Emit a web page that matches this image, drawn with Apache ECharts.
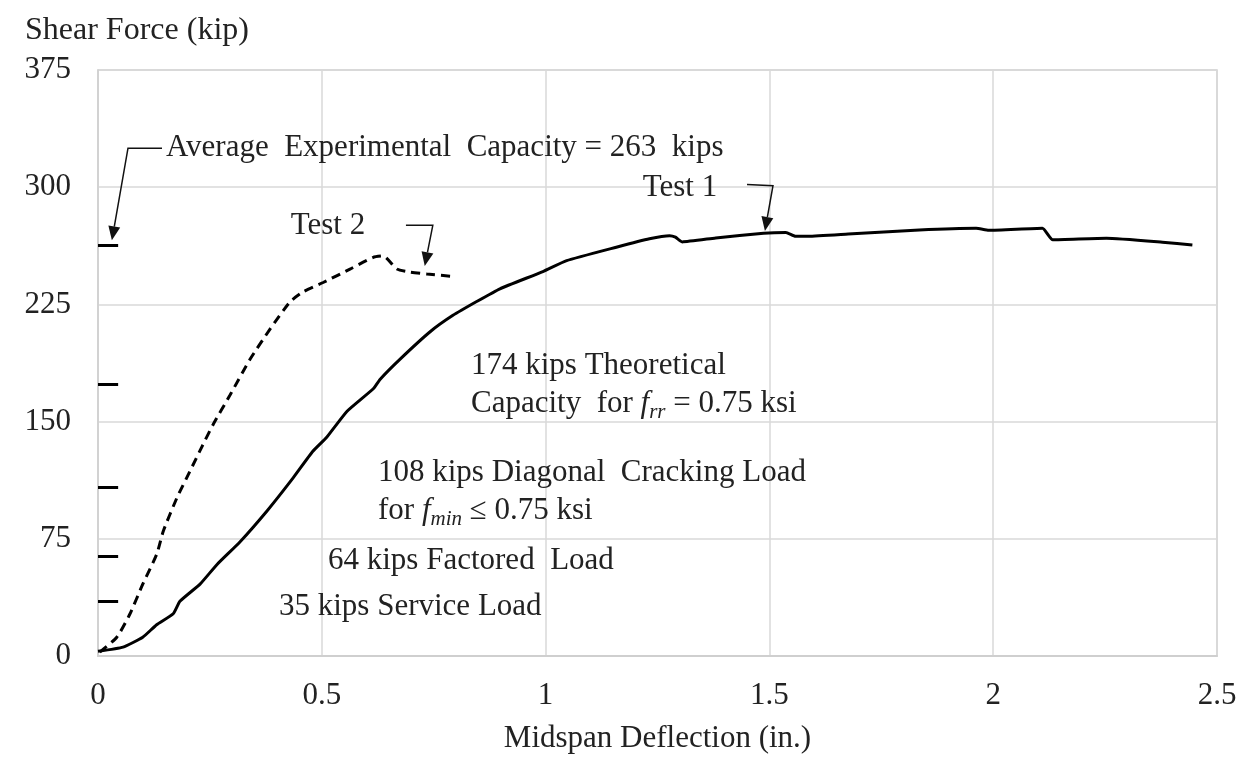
<!DOCTYPE html>
<html>
<head>
<meta charset="utf-8">
<script src="https://cdn.jsdelivr.net/npm/echarts@6/dist/echarts.min.js"></script>
<style>
  html, body { margin: 0; padding: 0; background: #fff; }
  #main { width: 1253px; height: 759px; }
</style>
</head>
<body>
<div id="main"></div>
<script>
// Test 1 (solid) : [deflection in., shear kip]
var test1 = [
  [0, 3], [0.056, 5.7], [0.1, 12], [0.131, 20], [0.168, 27], [0.183, 35],
  [0.228, 46], [0.266, 58.6], [0.317, 73], [0.378, 93], [0.436, 114], [0.48, 131],
  [0.511, 140], [0.556, 156.5], [0.615, 171], [0.63, 177], [0.675, 190],
  [0.742, 207.5], [0.793, 218], [0.847, 227], [0.898, 235], [0.994, 246],
  [1.047, 253], [1.158, 261.6], [1.232, 267], [1.277, 269], [1.29, 268],
  [1.305, 265], [1.38, 267.5], [1.487, 270.5], [1.537, 271], [1.558, 268.6],
  [1.587, 268.6], [1.676, 270], [1.835, 272.6], [1.962, 273.7], [1.99, 272.4],
  [2.11, 273.7], [2.133, 266.3], [2.253, 267.3], [2.378, 264.8], [2.445, 263]
];
// Test 2 (dashed)
var test2 = [
  [0.004, 2.5], [0.042, 12], [0.071, 26.7], [0.1, 46], [0.131, 65], [0.146, 80],
  [0.176, 101], [0.205, 118], [0.234, 135], [0.257, 148], [0.295, 167], [0.34, 190],
  [0.384, 209], [0.429, 226.6], [0.458, 233], [0.503, 239], [0.563, 247.6],
  [0.614, 255], [0.637, 256], [0.668, 247.6], [0.697, 245.7], [0.735, 244.4], [0.79, 243]
];
// reference load levels marked on the y axis
var loadLevels = [263, 174, 108, 64, 35];
var xTicks = [0, 0.5, 1, 1.5, 2, 2.5];
var yTicks = [0, 75, 150, 225, 300, 375];

var FONT = '"Liberation Serif", "Times New Roman", serif';
var FS = 31;
var myChart = echarts.init(document.getElementById('main'));

myChart.setOption({
  animation: false,
  title: {
    text: 'Shear Force (kip)',
    left: 20, top: 10,
    textStyle: { fontFamily: FONT, fontSize: 32, fontWeight: 'normal', color: '#222' }
  },
  grid: { left: 98, right: 36, top: 70, bottom: 100, show: true, borderColor: '#cfcfcf', borderWidth: 1.5 },
  xAxis: {
    type: 'value', min: xTicks[0], max: xTicks[xTicks.length - 1], interval: 0.5,
    name: 'Midspan Deflection (in.)', nameLocation: 'middle', nameGap: 67,
    nameTextStyle: { fontFamily: FONT, fontSize: FS, color: '#222' },
    axisLine: { lineStyle: { color: '#cfcfcf', width: 2 } },
    axisTick: { show: false },
    axisLabel: { fontFamily: FONT, fontSize: FS, color: '#222', margin: 24 },
    splitLine: { lineStyle: { color: '#d9d9d9', width: 1.5 } }
  },
  yAxis: {
    type: 'value', min: yTicks[0], max: yTicks[yTicks.length - 1], interval: 75,
    axisLine: { show: true, lineStyle: { color: '#cfcfcf', width: 1.5 } },
    axisTick: { show: false },
    axisLabel: { fontFamily: FONT, fontSize: FS, color: '#222', margin: 27 },
    splitLine: { lineStyle: { color: '#d9d9d9', width: 1.5 } }
  },
  series: [
    {
      name: 'Test 1', type: 'line', data: test1, showSymbol: false, smooth: 0.15,
      lineStyle: { color: '#000', width: 3 },
      markLine: {
        silent: true, symbol: 'none', label: { show: false },
        lineStyle: { color: '#000', width: 3, type: 'solid' },
        data: loadLevels.map(function (v) { return [{ coord: [0, v] }, { coord: [0.045, v] }]; })
      }
    },
    {
      name: 'Test 2', type: 'line', data: test2, showSymbol: false, smooth: 0.2,
      lineStyle: { color: '#000', width: 3, type: [9, 6] }
    }
  ]
});

// annotation arrows, positioned in data coordinates
function px(p) { return myChart.convertToPixel({ gridIndex: 0 }, p); }
function arrow(path) {
  var pts = path.map(px);
  var tip = pts[pts.length - 1], prev = pts[pts.length - 2];
  var ang = Math.atan2(tip[1] - prev[1], tip[0] - prev[0]);
  var L = 14, W = 6;
  var bx = tip[0] - L * Math.cos(ang), by = tip[1] - L * Math.sin(ang);
  var nx = -Math.sin(ang) * W, ny = Math.cos(ang) * W;
  var shaft = pts.slice(0, -1).concat([[bx, by]]);
  return [
    { type: 'polyline', shape: { points: shaft }, style: { stroke: '#111', lineWidth: 1.5, fill: null } },
    { type: 'polygon', shape: { points: [tip, [bx + nx, by + ny], [bx - nx, by - ny]] }, style: { fill: '#111' } }
  ];
}
function label(text, x, y, align, rich) {
  return {
    type: 'text', x: x, y: y,
    style: {
      text: text, fontFamily: FONT, fontSize: FS, fill: '#222',
      align: align || 'left', verticalAlign: 'middle', rich: rich
    }
  };
}
var subRich = {
  t: { fontFamily: FONT, fontSize: FS, color: '#222', lineHeight: 38 },
  i: { fontFamily: FONT, fontSize: FS, color: '#222', fontStyle: 'italic', lineHeight: 38 },
  s: { fontFamily: FONT, fontSize: 21, color: '#222', fontStyle: 'italic', lineHeight: 38, verticalAlign: 'bottom' }
};

var g = [];
g = g.concat(arrow([[0.143, 325], [0.067, 325], [0.031, 266]]));
g = g.concat(arrow([[0.688, 275.6], [0.748, 275.6], [0.73, 249.5]]));
g = g.concat(arrow([[1.45, 301.7], [1.508, 301], [1.49, 272]]));
g.push(label('Average  Experimental  Capacity = 263  kips', 166, 148));
g.push(label('Test 2', 328, 226, 'center'));
g.push(label('Test 1', 680, 188, 'center'));
g.push(label('174 kips Theoretical', 471, 366));
g.push(label('{t|Capacity  for }{i|f}{s|rr}{t| = 0.75 ksi}', 471, 404, 'left', subRich));
g.push(label('108 kips Diagonal  Cracking Load', 378, 473));
g.push(label('{t|for }{i|f}{s|min}{t| ≤ 0.75 ksi}', 378, 511, 'left', subRich));
g.push(label('64 kips Factored  Load', 328, 561));
g.push(label('35 kips Service Load', 279, 607));

myChart.setOption({ graphic: g });
</script>
</body>
</html>
